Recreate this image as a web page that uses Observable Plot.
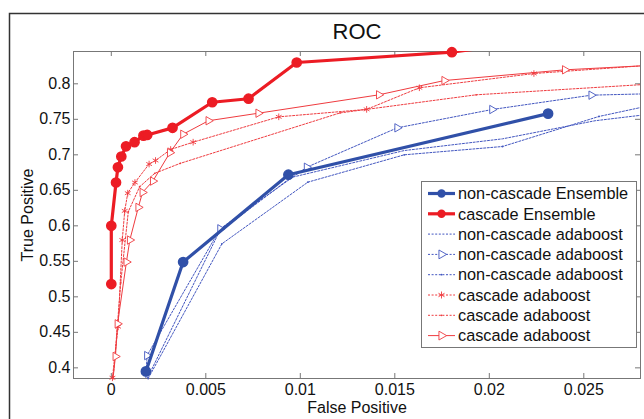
<!DOCTYPE html>
<html><head><meta charset="utf-8">
<script src="https://cdn.jsdelivr.net/npm/d3@7"></script>
<script src="https://cdn.jsdelivr.net/npm/@observablehq/plot@0.6"></script>
<style>
body{margin:0;background:#fff;}
svg{display:block;font-family:"Liberation Sans",Arial,sans-serif;}
</style>
</head><body><div id="chart"></div>
<script>
// ---- data ----
const X_TICKS = [0, 0.005, 0.01, 0.015, 0.02, 0.025];
const Y_TICKS = [0.4, 0.45, 0.5, 0.55, 0.6, 0.65, 0.7, 0.75, 0.8];
const X_DOMAIN = [-0.002, 0.028];
const Y_DOMAIN = [0.385, 0.8455];

const ncEnsembleFP = [0.00183, 0.0038, 0.00937, 0.02311];
const ncEnsembleTP = [0.395, 0.549, 0.672, 0.758];

const cEnsembleFP = [0, 0, 0.00025, 0.00035, 0.00053, 0.00078, 0.00123, 0.0017, 0.0019, 0.00324, 0.00534, 0.00726, 0.00981, 0.01802, 0.0198];
const cEnsembleTP = [0.518, 0.600, 0.661, 0.6825, 0.6976, 0.712, 0.7178, 0.727, 0.728, 0.738, 0.774, 0.779, 0.830, 0.8445, 0.851];

const ncAda1FP = [0.0019, 0.0057, 0.0095, 0.0155, 0.0207, 0.0256, 0.0300];
const ncAda1TP = [0.385, 0.591, 0.668, 0.706, 0.7225, 0.748, 0.762];

const ncAda2FP = [0.0018, 0.00189, 0.00576, 0.01034, 0.01513, 0.02015, 0.0254, 0.0300];
const ncAda2TP = [0.370, 0.4173, 0.5958, 0.6825, 0.738, 0.7638, 0.784, 0.787];

const ncAda3FP = [0.00195, 0.00585, 0.0104, 0.0155, 0.0207, 0.0258, 0.0300];
const ncAda3TP = [0.385, 0.5746, 0.6615, 0.700, 0.7117, 0.754, 0.778];

const cAda1FP = [0.00006, 0.00036, 0.00058, 0.00071, 0.00087, 0.00125, 0.0020, 0.00234, 0.00314, 0.00433, 0.00886, 0.01351, 0.0163, 0.02236, 0.0300];
const cAda1TP = [0.386, 0.458, 0.580, 0.621, 0.646, 0.661, 0.687, 0.692, 0.7075, 0.7178, 0.7535, 0.7640, 0.7944, 0.8145, 0.829];

const cAda2FP = [0.0001, 0.0005, 0.0009, 0.0015, 0.0023, 0.00365, 0.0121, 0.0193, 0.0300];
const cAda2TP = [0.385, 0.52, 0.62, 0.655, 0.674, 0.688, 0.759, 0.7845, 0.802];

const cAda3FP = [0.00002, 0.00022, 0.00033, 0.0008, 0.00098, 0.00143, 0.00165, 0.0022, 0.0031, 0.0038, 0.00514, 0.00778, 0.01416, 0.01762, 0.0240, 0.0300];
const cAda3TP = [0.37, 0.416, 0.462, 0.549, 0.580, 0.626, 0.647, 0.663, 0.703, 0.729, 0.748, 0.7586, 0.7845, 0.8046, 0.8197, 0.828];

const NAMES = ["non-cascade Ensemble", "cascade Ensemble", "non-cascade adaboost", "non-cascade adaboost", "non-cascade adaboost", "cascade adaboost", "cascade adaboost", "cascade adaboost"];

// ---- styles ----
const RED = "#ec1c24", BLUE = "#3050a8", RED_T = "#ef3b3f", BLUE_T = "#4256c0";
const series = [
  {fp: ncAda1FP, tp: ncAda1TP, stroke: BLUE_T, width: 1, dash: "2,1.6", marker: null},
  {fp: ncAda2FP, tp: ncAda2TP, stroke: BLUE_T, width: 1, dash: "2,1.6", marker: "tri"},
  {fp: ncAda3FP, tp: ncAda3TP, stroke: BLUE_T, width: 1, dash: "2,1.6", marker: "dot"},
  {fp: cAda1FP, tp: cAda1TP, stroke: RED_T, width: 1, dash: "2,1.6", marker: "ast"},
  {fp: cAda2FP, tp: cAda2TP, stroke: RED_T, width: 1, dash: "2,1.6", marker: "dot"},
  {fp: cAda3FP, tp: cAda3TP, stroke: RED_T, width: 1, dash: null, marker: "tri"},
  {fp: ncEnsembleFP, tp: ncEnsembleTP, stroke: BLUE, width: 3.2, dash: null, marker: "big"},
  {fp: cEnsembleFP, tp: cEnsembleTP, stroke: RED, width: 3.2, dash: null, marker: "big"}
];
const legendOrder = [6, 7, 0, 1, 2, 3, 4, 5];

const inside = d => d.fp >= X_DOMAIN[0] && d.fp <= X_DOMAIN[1] && d.tp >= Y_DOMAIN[0] && d.tp <= Y_DOMAIN[1];

const marks = [];
series.forEach(s => {
  const rows = s.fp.map((fp, i) => ({fp, tp: s.tp[i]}));
  marks.push(Plot.line(rows, {x: "fp", y: "tp", stroke: s.stroke, strokeWidth: s.width, strokeDasharray: s.dash, clip: true}));
  const pts = rows.filter(inside);
  if (s.marker === "big") marks.push(Plot.dot(pts, {x: "fp", y: "tp", r: 4.6, fill: s.stroke, stroke: s.stroke}));
  if (s.marker === "tri") marks.push(Plot.dot(pts, {x: "fp", y: "tp", symbol: "triangle", rotate: 90, r: 3.1, fill: "white", stroke: s.stroke, strokeWidth: 0.9}));
  if (s.marker === "ast") marks.push(Plot.dot(pts, {x: "fp", y: "tp", symbol: "asterisk", r: 3.1, stroke: s.stroke, strokeWidth: 0.9}));
  if (s.marker === "dot") marks.push(Plot.dot(pts, {x: "fp", y: "tp", r: 0.9, fill: s.stroke}));
});

const chart = Plot.plot({
  width: 644, height: 419,
  marginLeft: 73, marginRight: 4, marginTop: 51, marginBottom: 41,
  style: {fontFamily: "Liberation Sans, Arial, sans-serif", color: "#111", background: "white"},
  x: {domain: X_DOMAIN},
  y: {domain: Y_DOMAIN},
  marks: [
    Plot.frame({stroke: "#777", strokeWidth: 1}),
    Plot.tickX(X_TICKS, {x: d => d, insetTop: 322, stroke: "#777"}),
    Plot.tickX(X_TICKS, {x: d => d, insetBottom: 322, stroke: "#777"}),
    Plot.tickY(Y_TICKS, {y: d => d, insetRight: 562, stroke: "#777"}),
    Plot.tickY(Y_TICKS, {y: d => d, insetLeft: 562, stroke: "#777"}),
    Plot.axisX(X_TICKS, {tickSize: 0, tickPadding: 5, tickFormat: d => String(d), fontSize: 16, label: null}),
    Plot.axisY(Y_TICKS, {tickSize: 0, tickPadding: 3, tickFormat: d => String(d), fontSize: 16, label: null}),
    ...marks,
    Plot.text(["ROC"], {frameAnchor: "top", lineAnchor: "middle", dy: -20, fontSize: 22, fill: "#111"}),
    Plot.text(["False Positive"], {frameAnchor: "bottom", lineAnchor: "middle", dy: 29, fontSize: 16, fill: "#111"}),
    Plot.text(["True Positive"], {frameAnchor: "left", textAnchor: "middle", lineAnchor: "middle", dx: -46, rotate: -90, fontSize: 16, fill: "#111"})
  ]
});
document.getElementById("chart").appendChild(chart);

// outer figure border and legend
const svg = d3.select(chart);
svg.append("path").attr("d", "M9.5,419V13.5H644").attr("fill", "none").attr("stroke", "#333").attr("stroke-width", 1.5);
const lg = svg.append("g").attr("text-anchor", "start");
lg.append("rect").attr("x", 421.5).attr("y", 181.5).attr("width", 215).attr("height", 166)
  .attr("fill", "white").attr("stroke", "#777");
legendOrder.forEach((si, i) => {
  const s = series[si];
  const y = 193.5 + i * 20.3;
  lg.append("line").attr("x1", 428).attr("x2", 455).attr("y1", y).attr("y2", y)
    .attr("stroke", s.stroke).attr("stroke-width", s.width).attr("stroke-dasharray", s.dash);
  const cx = 441.5;
  if (s.marker === "big") lg.append("circle").attr("cx", cx).attr("cy", y).attr("r", 4.2).attr("fill", s.stroke);
  if (s.marker === "tri") lg.append("path").attr("d", d3.symbol(d3.symbolTriangle, 34)()).attr("transform", `translate(${cx},${y}) rotate(90)`).attr("fill", "white").attr("stroke", s.stroke).attr("stroke-width", 0.9);
  if (s.marker === "ast") lg.append("path").attr("d", d3.symbol(d3.symbolAsterisk, 34)()).attr("transform", `translate(${cx},${y})`).attr("fill", "none").attr("stroke", s.stroke).attr("stroke-width", 0.9);
  if (s.marker === "dot") lg.append("circle").attr("cx", cx).attr("cy", y).attr("r", 0.9).attr("fill", s.stroke);
  lg.append("text").attr("x", 458).attr("y", y).attr("dy", "0.35em").attr("font-size", 16.3).attr("fill", "#111").attr("text-anchor", "start").text(NAMES[i]);
});
</script></body></html>
